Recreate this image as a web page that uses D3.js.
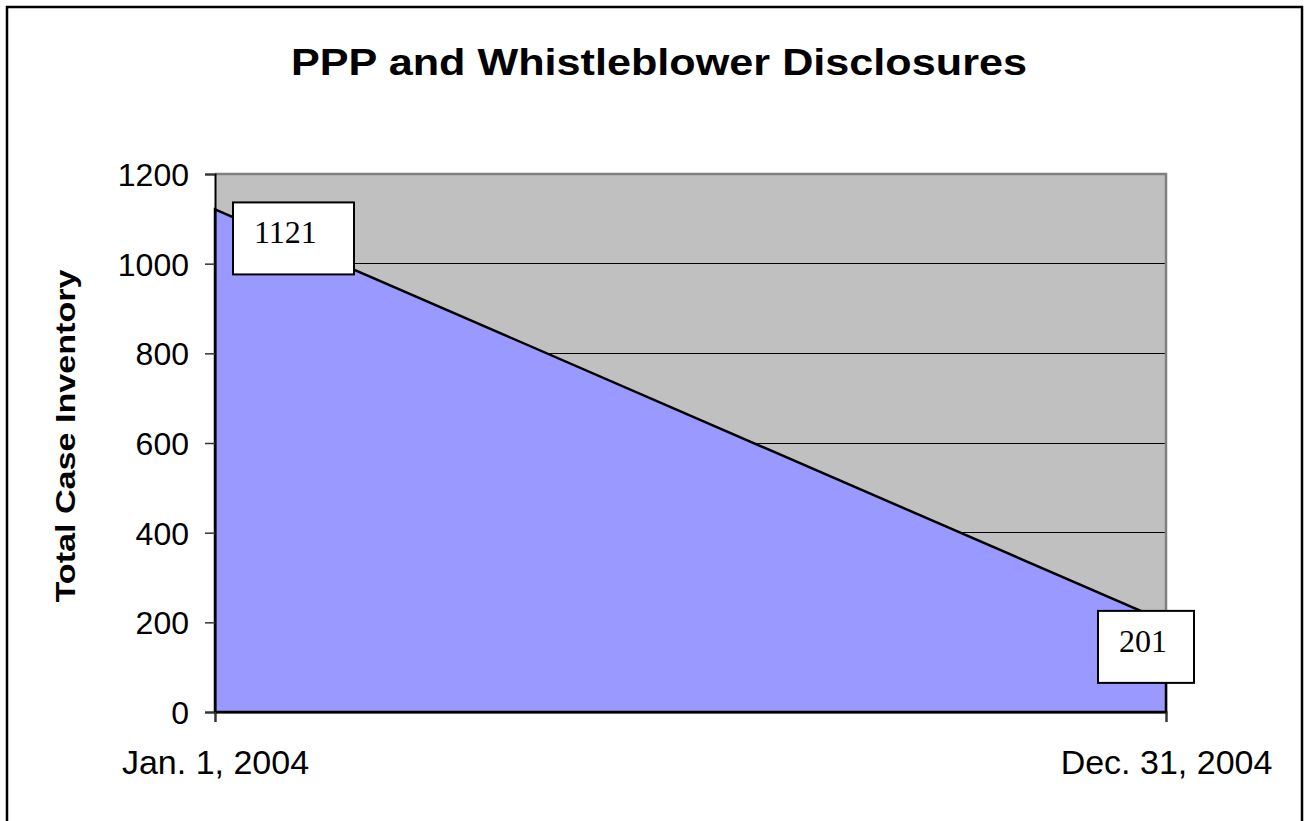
<!DOCTYPE html>
<html lang="en">
<head>
  <meta charset="UTF-8">
  <title>PPP and Whistleblower Disclosures</title>
  <script src="https://cdn.jsdelivr.net/npm/d3@7"></script>
  <style>
    body {
      margin: 0;
      background: #fff;
    }
    svg {
      display: block;
      font-family: Arial, "Liberation Sans", sans-serif;
    }
  </style>
</head>
<body>
  <svg id="chart" width="1308" height="821"></svg>
  <script>
    // data
    const dates  = ['Jan. 1, 2004', 'Dec. 31, 2004'];
    const values = [1121, 201];
    const yTicks = [0, 200, 400, 600, 800, 1000, 1200];

    const width  = 1308;
    const height = 821;
    const plot = { left: 215, right: 1166, top: 174, bottom: 712 };

    const svg = d3.select('#chart');

    // outer frame
    svg.append('rect')
      .attr('x', 7).attr('y', 7)
      .attr('width', 1295).attr('height', 820)
      .attr('fill', '#fff')
      .attr('stroke', '#000')
      .attr('stroke-width', 2.5);

    const x = d3.scalePoint().domain(dates).range([plot.left, plot.right]).padding(0);
    const y = d3.scaleLinear().domain([0, 1200]).range([plot.bottom, plot.top]);

    // plot background
    svg.append('rect')
      .attr('x', plot.left).attr('y', plot.top)
      .attr('width', plot.right - plot.left)
      .attr('height', plot.bottom - plot.top)
      .attr('fill', '#c0c0c0');

    // grid lines
    svg.append('g')
      .selectAll('line')
      .data(yTicks.filter(d => d > 0 && d < 1200))
      .join('line')
        .attr('x1', plot.left).attr('x2', plot.right)
        .attr('y1', d => y(d)).attr('y2', d => y(d))
        .attr('stroke', '#000')
        .attr('stroke-width', 1)
        .attr('shape-rendering', 'crispEdges');

    // gray border top + right of plot area
    svg.append('path')
      .attr('d', `M${plot.left},${plot.top}H${plot.right}V${plot.bottom}`)
      .attr('fill', 'none')
      .attr('stroke', '#808080')
      .attr('stroke-width', 2.5);

    // area
    const pts = dates.map((d, i) => ({ d, v: values[i] }));
    const area = d3.area()
      .x(p => x(p.d))
      .y0(y(0))
      .y1(p => y(p.v));
    svg.append('path')
      .datum(pts)
      .attr('d', area)
      .attr('fill', '#9999ff')
      .attr('stroke', '#000')
      .attr('stroke-width', 2.5)
      .attr('stroke-linejoin', 'miter');

    // y axis
    const yAxis = d3.axisLeft(y)
      .tickValues(yTicks)
      .tickFormat(d3.format('d'))
      .tickSize(10)
      .tickPadding(16);
    const gy = svg.append('g')
      .attr('transform', `translate(${plot.left},0)`)
      .call(yAxis);
    gy.select('.domain').attr('stroke', '#000').attr('stroke-width', 2);
    gy.selectAll('.tick line').attr('stroke', '#333').attr('stroke-width', 1.5);
    gy.selectAll('.tick text')
      .attr('font-family', 'Arial, "Liberation Sans", sans-serif')
      .attr('font-size', 32)
      .attr('fill', '#000')
      .attr('dy', '0.36em');

    // x axis
    const xAxis = d3.axisBottom(x)
      .tickSize(10)
      .tickPadding(28);
    const gx = svg.append('g')
      .attr('transform', `translate(0,${plot.bottom})`)
      .call(xAxis);
    gx.select('.domain').attr('stroke', '#000').attr('stroke-width', 2);
    gx.selectAll('.tick line').attr('stroke', '#333').attr('stroke-width', 1.5);
    gx.selectAll('.tick text')
      .attr('font-family', 'Arial, "Liberation Sans", sans-serif')
      .attr('font-size', 34)
      .attr('fill', '#000')
      .attr('dy', '0.71em');

    // data labels
    const labelBoxes = [
      { dx: 18, dy: -7, w: 121 },
      { dx: -68, dy: -11, w: 96 }
    ];
    pts.forEach((p, i) => {
      const b = labelBoxes[i];
      const bx = x(p.d) + b.dx;
      const by = y(p.v) + b.dy;
      const g = svg.append('g');
      g.append('rect')
        .attr('x', bx).attr('y', by)
        .attr('width', b.w).attr('height', 72)
        .attr('fill', '#fff')
        .attr('stroke', '#000')
        .attr('stroke-width', 2);
      g.append('text')
        .attr('x', bx + 21)
        .attr('y', by + 41)
        .attr('font-family', '"Times New Roman", "Liberation Serif", serif')
        .attr('font-size', 32)
        .attr('fill', '#000')
        .text(p.v);
    });

    // title
    svg.append('text')
      .attr('x', 659)
      .attr('y', 75)
      .attr('text-anchor', 'middle')
      .attr('font-size', 36)
      .attr('font-weight', 'bold')
      .attr('textLength', 736)
      .attr('lengthAdjust', 'spacingAndGlyphs')
      .text('PPP and Whistleblower Disclosures');

    // y axis title
    svg.append('text')
      .attr('transform', `translate(75,436) rotate(-90)`)
      .attr('text-anchor', 'middle')
      .attr('font-size', 28)
      .attr('font-weight', 'bold')
      .attr('textLength', 333)
      .attr('lengthAdjust', 'spacingAndGlyphs')
      .text('Total Case Inventory');
  </script>
</body>
</html>
